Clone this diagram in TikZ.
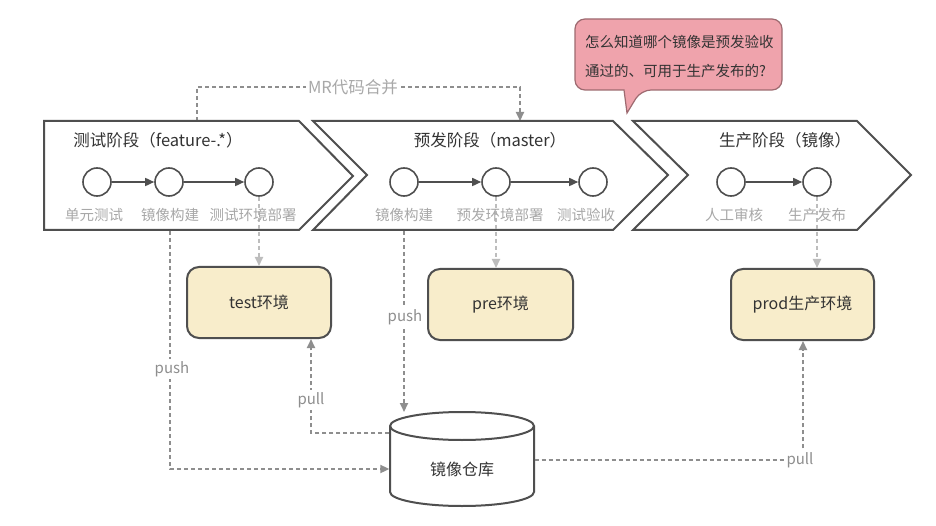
\documentclass[tikz,border=0pt]{standalone}
\usepackage{fontspec}
\setmainfont{Noto Sans CJK SC}
\usetikzlibrary{arrows.meta,calc}
\definecolor{chevline}{HTML}{4F4F4F}
\definecolor{titletxt}{HTML}{333333}
\definecolor{steptxt}{HTML}{A8A8A8}
\definecolor{lightdash}{HTML}{BDBDBD}
\definecolor{darkdash}{HTML}{8E8E8E}
\definecolor{envfill}{HTML}{F8EDCB}
\definecolor{pinkfill}{HTML}{EFA3AC}
\definecolor{pinkline}{HTML}{9E6A70}
\tikzset{
  chev/.style={draw=chevline, line width=2, line join=miter, fill=white},
  stepnode/.style={circle, draw=chevline, line width=1.6, minimum size=28, inner sep=0, fill=white},
  steparrow/.style={draw=chevline, line width=1.6, -{Triangle[length=9,width=8]}},
  steplabel/.style={text=steptxt, font=\fontsize{14.5}{16}\selectfont, inner sep=1},
  titlelabel/.style={text=titletxt, font=\fontsize{16.5}{19}\selectfont},
  envbox/.style={draw=chevline, line width=2, fill=envfill, rounded corners=12, minimum height=71, text=titletxt, font=\fontsize{16}{19}\selectfont},
  lightline/.style={draw=lightdash, line width=2, dash pattern=on 4 off 3, -{Triangle[length=9,width=8]}},
  darkline/.style={draw=darkdash, line width=2, dash pattern=on 4 off 3, -{Triangle[length=9,width=8]}},
  linelabel/.style={text=darkdash, fill=white, font=\fontsize{15}{18}\selectfont, inner sep=2},
  callouttext/.style={text=titletxt, font=\fontsize{14.5}{17}\selectfont, anchor=west, inner sep=0},
}
\begin{document}
\begin{tikzpicture}[x=1pt,y=-1pt]
\useasboundingbox (0,0) rectangle (936,526);
\fill[white] (0,0) rectangle (936,526);

% callout
\draw[fill=pinkfill, draw=pinkline, line width=1.2]
  (627,113) -- (624,90) [rounded corners=10] -- (575,90) -- (575,19) -- (782,19) -- (782,90) -- (641,90) [sharp corners] -- cycle;
\node[callouttext] (q1) at (585,42) {怎么知道哪个镜像是预发验收};
\node[callouttext] (q2) at (585,71) {通过的、可用于生产发布的?};

% MR connector
\coordinate (mrstart) at (197,121);
\coordinate (mrend) at (520,121);
\draw[darkline] (mrstart) -- (197,87) -- (520,87) -- (mrend);
\node[linelabel, text=steptxt, font=\fontsize{16.5}{19}\selectfont] (mr) at (353,87) {MR代码合并};

% chevrons
\draw[chev] (44,121) -- (299,121) -- (353,176) -- (299,230) -- (44,230) -- cycle;
\draw[chev] (313,121) -- (613,121) -- (668,175) -- (613,230) -- (313,230) -- (367,175) -- cycle;
\draw[chev] (633,121) -- (857,121) -- (911,175) -- (857,230) -- (633,230) -- (688,175) -- cycle;

\node[titlelabel] (t1) at (158,140) {测试阶段（feature-.*）};
\node[titlelabel] (t2) at (490,140) {预发阶段（master）};
\node[titlelabel] (t3) at (785,140) {生产阶段（镜像）};

% env boxes
\node[envbox, minimum width=144] (test) at (259,302.5) {test环境};
\node[envbox, minimum width=145] (pre) at (500.5,304.5) {pre环境};
\node[envbox, minimum width=143] (prod) at (802.5,304.5) {prod生产环境};

% repository cylinder
\node[minimum width=145, minimum height=95, inner sep=0] (repo) at (462,459) {};
\draw[draw=chevline, line width=2, fill=white]
  (390,426) -- (390,492) arc[start angle=180, end angle=0, x radius=72, y radius=14] -- (534,426)
  arc[start angle=0, end angle=-180, x radius=72, y radius=14] -- cycle;
\draw[draw=chevline, line width=2] (390,426) arc[start angle=180, end angle=0, x radius=72, y radius=14];
\node[text=titletxt, font=\fontsize{16}{19}\selectfont] (repotxt) at (462,469) {镜像仓库};

% steps
\node[stepnode] (a1) at (97,182) {};
\node[stepnode] (a2) at (169,182) {};
\node[stepnode] (a3) at (259,182) {};
\node[stepnode] (b1) at (404,182) {};
\node[stepnode] (b2) at (496,182) {};
\node[stepnode] (b3) at (593,182) {};
\node[stepnode] (c1) at (731,182) {};
\node[stepnode] (c2) at (817,182) {};

\draw[steparrow] (a1) -- (a2);
\draw[steparrow] (a2) -- (a3);
\draw[steparrow] (b1) -- (b2);
\draw[steparrow] (b2) -- (b3);
\draw[steparrow] (c1) -- (c2);

% deploy lines
\draw[lightline] (a3.south) -- (a3.south |- test.north);
\draw[lightline] (b2.south) -- (b2.south |- pre.north);
\draw[lightline] (c2.south) -- (c2.south |- prod.north);

\node[steplabel] (la1) at (94,215) {单元测试};
\node[steplabel] (la2) at (170,215) {镜像构建};
\node[steplabel] (la3) at (253,215) {测试环境部署};
\node[steplabel] (lb1) at (404,215) {镜像构建};
\node[steplabel] (lb2) at (500,215) {预发环境部署};
\node[steplabel] (lb3) at (586,215) {测试验收};
\node[steplabel] (lc1) at (734,215) {人工审核};
\node[steplabel] (lc2) at (817,215) {生产发布};

% push / pull
\coordinate (push1) at (170,231);
\coordinate (push2) at (404,231);
\draw[darkline] (push1) -- (170,469) -- ($(repo.west)+(0,10)$);
\node[linelabel] (pushl1) at (172,369) {push};
\draw[darkline] (push2) -- (push2 |- 0,412);
\node[linelabel] (pushl2) at (405,317) {push};
\draw[darkline] ($(repo.west)+(0,-26)$) -- (311,433) -- (311,0 |- test.south);
\node[linelabel] (pulll1) at (311,400) {pull};
\draw[darkline] ($(repo.east)+(0,1)$) -- (803,460) -- (803,0 |- prod.south);
\node[linelabel] (pulll2) at (800,460) {pull};
\end{tikzpicture}
\end{document}
